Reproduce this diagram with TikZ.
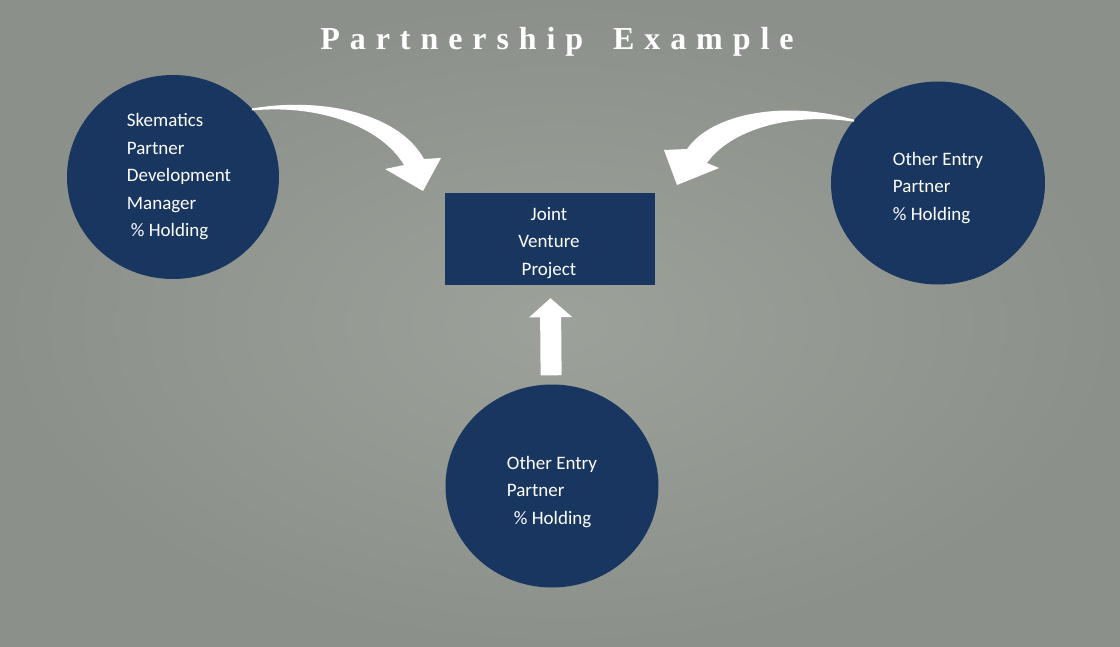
\documentclass[tikz,border=0pt]{standalone}
\usepackage{fontspec}
\setmainfont{Carlito}
\newfontfamily\titlefont[LetterSpace=31]{Liberation Serif}
\usepackage{tikz}
\usetikzlibrary{shapes.geometric,arrows.meta}
\definecolor{navy}{RGB}{25,54,96}
\definecolor{bgmid}{RGB}{156,161,154}
\definecolor{bgedge}{RGB}{139,144,138}

\begin{document}
\begin{tikzpicture}[x=1pt,y=-1pt,
   partner/.style={ellipse,fill=navy,inner sep=0pt},
   words/.style={text=white,align=left,font=\fontsize{19}{27.5}\selectfont},
   project/.style={rectangle,fill=navy,minimum width=210pt,minimum height=92pt},
   bent/.style={fill=white},
   uparrow/.style={draw=white,line width=21pt,-{Triangle[width=42pt,length=19pt]},shorten <=9pt,shorten >=13pt}]
   \shade[inner color=bgmid,outer color=bgedge] (0,0) rectangle (1120,647);
   \useasboundingbox (0,0) rectangle (1120,647);

   \node[text=white,font=\titlefont\bfseries\fontsize{32}{36}\selectfont] (title) at (557,42)
      {Partnership\hspace{12pt} Example};

   \node[partner,minimum width=212pt,minimum height=204pt,
      label={[words,xshift=6pt]center:Skematics\\Partner\\Development\\Manager\\\hspace*{4pt}\% Holding}] (skem) at (173,177) {};
   \node[partner,minimum width=214pt,minimum height=203pt,
      label={[words,yshift=-5pt]center:Other Entry\\Partner\\\% Holding}] (oe1) at (938,183) {};
   \node[partner,minimum width=213pt,minimum height=203pt,
      label={[words,yshift=-6pt]center:Other Entry\\Partner\\\hspace*{7pt}\% Holding}] (oe2) at (552,486) {};
   \node[project,label={[words,align=center,yshift=-4pt,xshift=-1pt]center:Joint\\Venture\\Project}] (jv) at (550,239) {};

   % curved block arrows into the project
   \fill[bent] (skem.41) .. controls (320,97) and (398,112) .. (424,159) -- (441,158) -- (423,191)
      -- (385,169) -- (404,165) .. controls (382,128) and (322,104) .. ([yshift=-2pt]skem.41) -- cycle;
   \fill[bent] (oe1.143) .. controls (785,100) and (712,113) .. (687,149) -- (664,150) -- (677,185)
      -- (719,168) -- (707,163) .. controls (730,130) and (790,112) .. ([yshift=-2pt]oe1.143) -- cycle;

   \draw[uparrow] (oe2) -- (jv);
\end{tikzpicture}
\end{document}
